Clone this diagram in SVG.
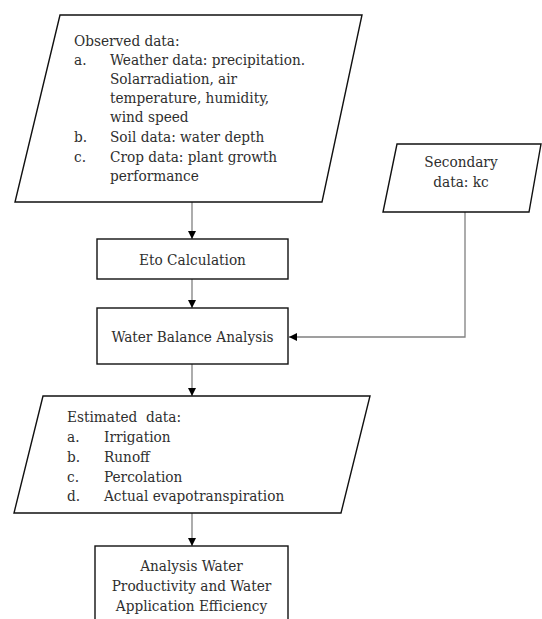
<svg xmlns="http://www.w3.org/2000/svg" width="542" height="619" viewBox="0 0 542 619">
<style>
.s{fill:#fff;stroke:#111;stroke-width:1.4}
.t{font-family:"DejaVu Serif Condensed","DejaVu Serif","Liberation Serif",serif;font-size:15.2px;fill:#2e2e2e}
.c{text-anchor:middle}
.l{fill:none;stroke:#808080;stroke-width:1.3}
</style>
<defs>
<marker id="ah" viewBox="0 0 10 10" refX="10" refY="5" markerWidth="8" markerHeight="8" markerUnits="userSpaceOnUse" orient="auto">
<path d="M0,0 L10,5 L0,10 Z" fill="#000"/>
</marker>
</defs>
<rect width="542" height="619" fill="#fff"/>
<g id="connectors">
<line class="l" x1="192" y1="202" x2="192" y2="239" marker-end="url(#ah)"/>
<line class="l" x1="192" y1="279" x2="192" y2="308" marker-end="url(#ah)"/>
<line class="l" x1="192" y1="364" x2="192" y2="396" marker-end="url(#ah)"/>
<line class="l" x1="192" y1="513" x2="192" y2="546" marker-end="url(#ah)"/>
<polyline class="l" points="465,212 465,337 289,337" marker-end="url(#ah)"/>
</g>
<g id="observed">
<polygon class="s" points="60,15 362,15 322,202 15,202"/>
<text class="t" x="74" y="46">Observed data:</text>
<text class="t" x="74" y="65">a.</text>
<text class="t" x="110" y="65">Weather data: precipitation.</text>
<text class="t" x="110" y="84">Solarradiation, air</text>
<text class="t" x="110" y="103">temperature, humidity,</text>
<text class="t" x="110" y="122">wind speed</text>
<text class="t" x="74" y="142">b.</text>
<text class="t" x="110" y="142">Soil data: water depth</text>
<text class="t" x="74" y="162">c.</text>
<text class="t" x="110" y="162">Crop data: plant growth</text>
<text class="t" x="110" y="181">performance</text>
</g>
<g id="secondary">
<polygon class="s" points="397,144 541,144 529,212 383,212"/>
<text class="t c" x="461" y="167">Secondary</text>
<text class="t c" x="461" y="187">data: kc</text>
</g>
<g id="eto">
<rect class="s" x="97" y="239" width="191" height="40"/>
<text class="t c" x="192.5" y="265">Eto Calculation</text>
</g>
<g id="waterbalance">
<rect class="s" x="97" y="308" width="191" height="56"/>
<text class="t c" x="192.5" y="342">Water Balance Analysis</text>
</g>
<g id="estimated">
<polygon class="s" points="43,396 370,396 341,513 14,513"/>
<text class="t" x="67" y="422" xml:space="preserve">Estimated  data:</text>
<text class="t" x="67" y="442">a.</text>
<text class="t" x="104" y="442">Irrigation</text>
<text class="t" x="67" y="462">b.</text>
<text class="t" x="104" y="462">Runoff</text>
<text class="t" x="67" y="482">c.</text>
<text class="t" x="104" y="482">Percolation</text>
<text class="t" x="67" y="501">d.</text>
<text class="t" x="104" y="501">Actual evapotranspiration</text>
</g>
<g id="productivity">
<rect class="s" x="95" y="546" width="193" height="80"/>
<text class="t c" x="191.5" y="571">Analysis Water</text>
<text class="t c" x="191.5" y="591">Productivity and Water</text>
<text class="t c" x="191.5" y="611">Application Efficiency</text>
</g>
</svg>
